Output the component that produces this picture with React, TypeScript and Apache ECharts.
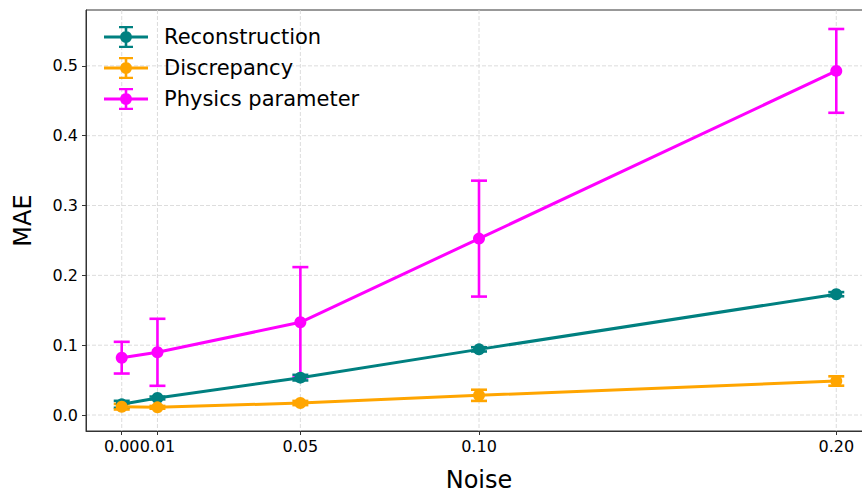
import React, { useEffect, useRef } from "react";
import * as echarts from "echarts";

const noise = [0, 0.01, 0.05, 0.1, 0.2];
const xTicks = [0, 0.01, 0.05, 0.1, 0.2];
const yTicks = [0, 0.1, 0.2, 0.3, 0.4, 0.5];

const reconMean = [0.0153, 0.0244, 0.0535, 0.094, 0.173];
const reconErr = [0.005, 0.002, 0.004, 0.003, 0.003];
const discMean = [0.0119, 0.011, 0.0172, 0.0282, 0.0487];
const discErr = [0.004, 0.002, 0.003, 0.008, 0.0067];
const physMean = [0.0821, 0.0898, 0.1328, 0.2526, 0.4928];
const physErr = [0.0227, 0.048, 0.079, 0.083, 0.06];

const seriesNames = ["Reconstruction", "Discrepancy", "Physics parameter"];
const seriesColors = ["#008080", "#FFA500", "#FF00FF"];

const FONT = "DejaVu Sans";

const legendIcon =
  "path://M0 9.5h44v3h-44Z M15 0h14v2.2h-14Z M15 19.8h14v2.2h-14Z M20.7 0h2.6v22h-2.6Z M16 11A6 6 0 1 1 28 11A6 6 0 1 1 16 11Z";

const gridStyle = { stroke: "#d3d3d3", lineWidth: 0.8, lineDash: [4, 2] };

export default function App() {
  const ref = useRef<HTMLDivElement>(null);

  useEffect(() => {
    if (!ref.current) return;
    const chart = echarts.init(ref.current, null, { renderer: "svg" });
    const means = [reconMean, discMean, physMean];
    const errs = [reconErr, discErr, physErr];

    const xGridSeries = {
      type: "custom",
      name: "xgrid",
      z: 0,
      silent: true,
      clip: false,
      encode: { x: 0, y: 1 },
      data: xTicks.map((v) => [v, 0]),
      renderItem: (params: any, api: any) => {
        const p = api.coord([api.value(0), 0]);
        const cs = params.coordSys;
        return {
          type: "line",
          shape: { x1: p[0], y1: cs.y, x2: p[0], y2: cs.y + cs.height },
          style: gridStyle,
        };
      },
    };
    const yGridSeries = {
      type: "custom",
      name: "ygrid",
      z: 0,
      silent: true,
      clip: false,
      encode: { x: 0, y: 1 },
      data: yTicks.map((v) => [0, v]),
      renderItem: (params: any, api: any) => {
        const p = api.coord([0, api.value(1)]);
        const cs = params.coordSys;
        return {
          type: "line",
          shape: { x1: cs.x, y1: p[1], x2: cs.x + cs.width, y2: p[1] },
          style: gridStyle,
        };
      },
    };

    const errorSeries = means.map((m, i) => ({
      type: "custom",
      name: seriesNames[i] + " err",
      z: 1,
      silent: true,
      encode: { x: 0, y: 1 },
      data: noise.map((x, j) => [x, m[j], errs[i][j]]),
      renderItem: (params: any, api: any) => {
        const x = api.value(0);
        const y = api.value(1);
        const e = api.value(2);
        const top = api.coord([x, y + e]);
        const bot = api.coord([x, y - e]);
        const half = 8;
        const style = { stroke: seriesColors[i], lineWidth: 2.6 };
        return {
          type: "group",
          children: [
            { type: "line", shape: { x1: top[0], y1: top[1], x2: bot[0], y2: bot[1] }, style },
            { type: "line", shape: { x1: top[0] - half, y1: top[1], x2: top[0] + half, y2: top[1] }, style },
            { type: "line", shape: { x1: bot[0] - half, y1: bot[1], x2: bot[0] + half, y2: bot[1] }, style },
          ],
        };
      },
    }));

    const lineSeries = means.map((m, i) => ({
      type: "line",
      name: seriesNames[i],
      z: 2 + i,
      data: noise.map((x, j) => [x, m[j]]),
      symbol: "circle",
      symbolSize: 12,
      showSymbol: true,
      lineStyle: { color: seriesColors[i], width: 3 },
      itemStyle: { color: seriesColors[i], borderWidth: 0 },
      emphasis: { disabled: true },
    }));

    chart.setOption({
      animation: false,
      backgroundColor: "#ffffff",
      textStyle: { fontFamily: FONT },
      grid: {
        left: 86,
        top: 10,
        right: -10,
        bottom: 63,
        outerBoundsMode: "none",
        containLabel: false,
        show: true,
        borderColor: "#333",
        borderWidth: 1,
        backgroundColor: "transparent",
      },
      legend: {
        orient: "vertical",
        left: 104,
        top: 26,
        padding: 0,
        itemWidth: 44,
        itemHeight: 22,
        itemGap: 9,
        selectedMode: false,
        itemStyle: { borderWidth: 0 },
        textStyle: { fontSize: 21, color: "#000", fontFamily: FONT, padding: [0, 0, 0, 11] },
        data: seriesNames.map((n) => ({ name: n, icon: legendIcon })),
      },
      xAxis: {
        type: "value",
        min: -0.01,
        max: 0.21,
        name: "Noise",
        nameLocation: "middle",
        nameGap: 37,
        nameTextStyle: { fontSize: 24, color: "#000", fontFamily: FONT },
        axisLine: { show: true, onZero: false, lineStyle: { color: "#333", width: 1 } },
        axisTick: { show: true, customValues: xTicks, length: 4, lineStyle: { color: "#333" } },
        axisLabel: {
          customValues: xTicks,
          formatter: (v: number) => v.toFixed(2),
          fontSize: 16,
          color: "#000",
          margin: 7,
          fontFamily: FONT,
          hideOverlap: false,
          showMinLabel: true,
        },
        splitLine: { show: false },
      },
      yAxis: {
        type: "value",
        min: -0.0229,
        max: 0.58,
        name: "MAE",
        nameLocation: "middle",
        nameGap: 51,
        nameTextStyle: { fontSize: 24, color: "#000", fontFamily: FONT },
        axisLine: { show: true, onZero: false, lineStyle: { color: "#333", width: 1 } },
        axisTick: { show: true, customValues: yTicks, length: 4, lineStyle: { color: "#333" } },
        axisLabel: {
          customValues: yTicks,
          formatter: (v: number) => v.toFixed(1),
          fontSize: 16,
          color: "#000",
          margin: 8,
          fontFamily: FONT,
        },
        splitLine: { show: false },
      },
      series: [xGridSeries, yGridSeries, ...errorSeries, ...lineSeries],
    });
    return () => chart.dispose();
  }, []);

  return (
    <div
      ref={ref}
      style={{ position: "fixed", left: 0, top: 0, width: 862, height: 494, background: "#fff" }}
    />
  );
}
